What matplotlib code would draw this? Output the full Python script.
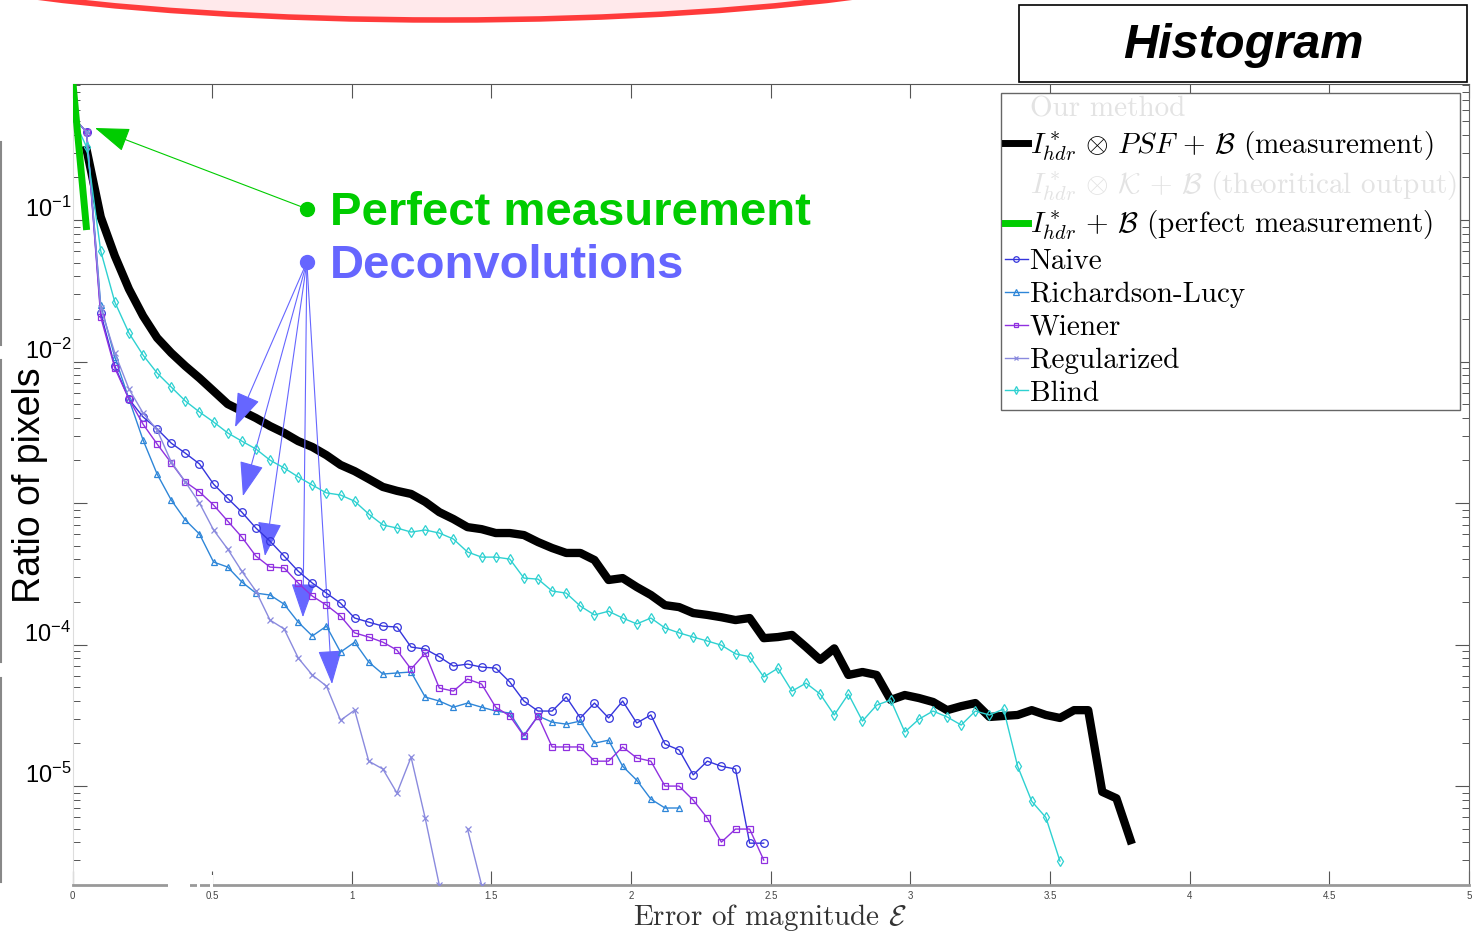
import numpy as np
import matplotlib.pyplot as plt
from matplotlib.lines import Line2D
from matplotlib.patches import Ellipse, Rectangle
from matplotlib.transforms import ScaledTranslation
from matplotlib.ticker import NullFormatter

plt.rcParams['font.family'] = ['Liberation Sans', 'DejaVu Sans']
plt.rcParams['mathtext.fontset'] = 'cm'

# histogram bins (100 bins between 0 and 5)
bins = np.linspace(0, 5, 100)

# measurement starts at bin 1, the others at bin 0
measurement = [0.313, 0.105, 0.0557, 0.0325, 0.0210, 0.0147, 0.0115, 0.00929, 0.00764, 0.00619,
               0.00501, 0.00447, 0.00399, 0.00350, 0.00313, 0.00274, 0.00249, 0.00218, 0.00186, 0.00168,
               0.00148, 0.00130, 0.00122, 0.00116, 0.00102, 0.000863, 0.000771, 0.000676, 0.000654, 0.000614,
               0.000614, 0.000594, 0.000530, 0.000481, 0.000444, 0.000444, 0.000396, 0.000286, 0.000295, 0.000255,
               0.000224, 0.000190, 0.000184, 0.000167, 0.000162, 0.000156, 0.000149, 0.000154, 0.000111, 0.000113,
               0.000117, 9.6e-5, 7.8e-5, 9.4e-5, 6.1e-5, 6.4e-5, 6.1e-5, 4.06e-5, 4.40e-5, 4.19e-5,
               3.93e-5, 3.44e-5, 3.67e-5, 3.86e-5, 3.08e-5, 3.13e-5, 3.18e-5, 3.44e-5, 3.18e-5, 3.03e-5,
               3.44e-5, 3.44e-5, 9.1e-6, 8.2e-6, 4.15e-6]
perfect = [1.0, 0.085]
naive = [0.535, 0.419, 0.0220, 0.00929, 0.00543, 0.00406, 0.00334, 0.00265, 0.00225, 0.00189,
         0.00136, 0.00108, 0.000863, 0.000666, 0.000538, 0.000422, 0.000330, 0.000272, 0.000231, 0.000196,
         0.000154, 0.000144, 0.000135, 0.000133, 9.6e-5, 9.3e-5, 8.2e-5, 7.05e-5, 7.28e-5, 6.93e-5,
         6.82e-5, 5.43e-5, 3.99e-5, 3.39e-5, 3.39e-5, 4.26e-5, 3.03e-5, 3.86e-5, 3.03e-5, 3.99e-5,
         2.79e-5, 3.18e-5, 1.98e-5, 1.80e-5, 1.20e-5, 1.50e-5, 1.38e-5, 1.32e-5, 3.95e-6, 3.95e-6]
richardson_lucy = [0.535, 0.419, 0.0251, 0.01076, 0.00543, 0.00279, 0.00160, 0.00105, 0.000759, 0.000604,
                   0.000383, 0.000353, 0.000277, 0.000231, 0.000224, 0.000193, 0.000144, 0.000115, 0.000135, 8.85e-5,
                   0.000104, 7.52e-5, 6.19e-5, 6.30e-5, 6.40e-5, 4.26e-5, 3.99e-5, 3.61e-5, 3.86e-5, 3.61e-5,
                   3.39e-5, 3.28e-5, 2.29e-5, 3.13e-5, 2.83e-5, 2.74e-5, 2.88e-5, 2.01e-5, 2.11e-5, 1.38e-5,
                   1.10e-5, 8.09e-6, 7.0e-6, 7.0e-6]
wiener = [0.535, 0.419, 0.0206, 0.00899, 0.00543, 0.00361, 0.00261, 0.00192, 0.00141, 0.00120,
          0.000968, 0.000746, 0.000575, 0.000422, 0.000353, 0.000348, 0.000272, 0.000220, 0.000190, 0.000159,
          0.000121, 0.000113, 0.000104, 9.14e-5, 6.71e-5, 8.7e-5, 4.93e-5, 4.69e-5, 5.70e-5, 5.26e-5,
          3.61e-5, 3.13e-5, 2.26e-5, 3.13e-5, 1.89e-5, 1.89e-5, 1.89e-5, 1.50e-5, 1.50e-5, 1.89e-5,
          1.58e-5, 1.50e-5, 1.00e-5, 1.00e-5, 7.96e-6, 5.94e-6, 4.02e-6, 4.97e-6, 4.97e-6, 3.0e-6]
regularized = [0.535, 0.419, 0.0239, 0.0115, 0.00640, 0.00433, 0.00328, 0.00195, 0.00141, 0.00100,
               0.000645, 0.000473, 0.000330, 0.000239, 0.000149, 0.000129, 8.04e-5, 6.09e-5, 5.09e-5, 2.92e-5,
               3.44e-5, 1.50e-5, 1.32e-5, 8.93e-6, 1.60e-5, 5.94e-6, 2.0e-6, np.nan, 4.97e-6, 2.0e-6]
blind = [0.535, 0.328, 0.0604, 0.0263, 0.0159, 0.0111, 0.00829, 0.00660, 0.00526, 0.00440,
         0.00374, 0.00313, 0.00274, 0.00241, 0.00201, 0.00177, 0.00153, 0.00134, 0.00118, 0.00114,
         0.00103, 0.000836, 0.000700, 0.000666, 0.000624, 0.000645, 0.000614, 0.000557, 0.000451, 0.000415,
         0.000415, 0.000402, 0.000295, 0.000290, 0.000239, 0.000231, 0.000187, 0.000162, 0.000172, 0.000154,
         0.000140, 0.000154, 0.000131, 0.000121, 0.000113, 0.000106, 9.9e-5, 8.6e-5, 8.2e-5, 5.9e-5,
         6.8e-5, 4.69e-5, 5.34e-5, 4.47e-5, 3.18e-5, 4.47e-5, 2.88e-5, 3.73e-5, 4.06e-5, 2.41e-5,
         2.97e-5, 3.39e-5, 3.08e-5, 2.70e-5, 3.39e-5, 3.18e-5, 3.50e-5, 1.38e-5, 7.8e-6, 6.0e-6,
         2.95e-6]

# annotation anchors (data coords)
perfect_dot = (0.839, 0.120)
perfect_tip = (0.0805, 0.447)
deconv_dot = (0.839, 0.0505)
deconv_tips_x = [0.582, 0.610, 0.689, 0.825, 0.929]
deconv_tips_y = [3.44e-3, 1.12e-3, 4.22e-4, 1.56e-4, 5.26e-5]

green = '#00cc00'
blue_txt = '#6666ff'
c_naive = '#3535dc'
c_rl = '#2e86d8'
c_wiener = '#9030e0'
c_reg = '#8a8ade'
c_blind = '#2ed1d1'

fig = plt.figure(figsize=(14.83, 9.38), dpi=100)
ax = fig.add_axes([0.0489, 0.0565, 0.9417, 0.8539])

ax.plot(bins[1:1 + len(measurement)], measurement, color='k', lw=6, zorder=3)
mk = dict(mfc='none', lw=1, mew=0.9)
ax.plot(bins[:len(naive)], naive, color=c_naive, marker='o', ms=5.5, zorder=4, **mk)
ax.plot(bins[:len(richardson_lucy)], richardson_lucy, color=c_rl, marker='^', ms=5, zorder=4, **mk)
ax.plot(bins[:len(wiener)], wiener, color=c_wiener, marker='s', ms=4.5, zorder=4, **mk)
ax.plot(bins[:len(regularized)], regularized, color=c_reg, marker='x', ms=4.5, zorder=4, **mk)
ax.plot(bins[:len(blind)], blind, color=c_blind, marker='d', ms=5.5, zorder=5, **mk)
ax.plot(bins[:len(perfect)], perfect, color=green, lw=5, solid_capstyle='butt', zorder=6)

ax.set_yscale('log')
ax.set_xlim(0, 5)
ax.set_ylim(2.0e-6, 0.914)

ax.set_xticks(np.arange(0, 5.01, 0.5), ['0', '0.5', '1', '1.5', '2', '2.5', '3', '3.5', '4', '4.5', '5'])
ax.set_yticks([1e-1, 1e-2, 1e-3, 1e-4, 1e-5],
              [r'$\mathregular{10^{-1}}$', r'$\mathregular{10^{-2}}$', '',
               r'$\mathregular{10^{-4}}$', r'$\mathregular{10^{-5}}$'])
ax.yaxis.set_minor_formatter(NullFormatter())

ax.tick_params(which='both', direction='in', top=True, right=True, color='#555555')
ax.tick_params(which='major', length=10, width=0.8)
ax.tick_params(which='minor', length=5, width=0.7)
ax.tick_params(axis='y', which='major', labelsize=17, pad=1)
ax.tick_params(axis='x', labelsize=7, labelcolor='#444444', pad=4)

offset = ScaledTranslation(0, 0.13, fig.dpi_scale_trans)
for lab in ax.get_yticklabels():
    lab.set_transform(lab.get_transform() + offset)

ax.spines['top'].set_color('#555555')
ax.spines['right'].set_color('#666666')
ax.spines['left'].set_color('#dddddd')
ax.spines['bottom'].set_color('#999999')
ax.spines['bottom'].set_linewidth(2)

# arrows and texts
arrow = '-|>,head_length=1.0,head_width=0.35'
ax.annotate('', xy=perfect_tip, xytext=perfect_dot,
            arrowprops=dict(arrowstyle=arrow, color=green, lw=0.8, shrinkA=0, shrinkB=0, mutation_scale=22))
for tx, ty in zip(deconv_tips_x, deconv_tips_y):
    ax.annotate('', xy=(tx, ty), xytext=deconv_dot,
                arrowprops=dict(arrowstyle=arrow, color=blue_txt, lw=0.8, shrinkA=0, shrinkB=0, mutation_scale=22))
ax.plot(*perfect_dot, 'o', color=green, ms=10, zorder=7)
ax.plot(*deconv_dot, 'o', color=blue_txt, ms=10, zorder=7)
ax.text(0.922, 0.112, 'Perfect measurement', color=green, fontsize=34, fontweight='bold', va='center')
ax.text(0.922, 0.0473, 'Deconvolutions', color=blue_txt, fontsize=34, fontweight='bold', va='center')

# legend
handles = [Line2D([], [], color='none'),
           Line2D([], [], color='k', lw=5),
           Line2D([], [], color='none'),
           Line2D([], [], color=green, lw=5),
           Line2D([], [], color=c_naive, marker='o', ms=4, **mk),
           Line2D([], [], color=c_rl, marker='^', ms=4, **mk),
           Line2D([], [], color=c_wiener, marker='s', ms=3.5, **mk),
           Line2D([], [], color=c_reg, marker='x', ms=3.5, **mk),
           Line2D([], [], color=c_blind, marker='d', ms=4, **mk)]
labels = ['Our method',
          r'$I^*_{hdr}\,\otimes\,PSF\,+\,\mathcal{B}$ (measurement)',
          r'$I^*_{hdr}\,\otimes\,\mathcal{K}\,+\,\mathcal{B}$ (theoritical output)',
          r'$I^*_{hdr}\,+\,\mathcal{B}$ (perfect measurement)',
          'Naive', 'Richardson-Lucy', 'Wiener', 'Regularized', 'Blind']
leg = ax.legend(handles, labels, loc='upper right', bbox_to_anchor=(1460 / 1483, 1 - 93 / 938),
                bbox_transform=fig.transFigure, prop={'family': 'cmr10', 'size': 21},
                fancybox=False, edgecolor='#666666', framealpha=1, borderaxespad=0,
                borderpad=0.12, handlelength=0.8, handletextpad=0.05, labelspacing=0.22)
leg.get_frame().set_linewidth(1)
leg.get_texts()[0].set_color('#e3e3e3')
leg.get_texts()[2].set_color('#e3e3e3')

# axis labels
fig.text(30 / 1483, 1 - 485 / 938, 'Ratio of pixels', rotation=90, fontsize=27, ha='center', va='center')
fig.text(770 / 1483, 1 - 917 / 938, r'Error of magnitude $\mathcal{E}$', family='cmr10', fontsize=21,
         color='#333333', ha='center', va='center')

# title box
fig.patches.append(Rectangle((1019 / 1483, 1 - 82 / 938), 448 / 1483, 77 / 938, transform=fig.transFigure,
                             facecolor='white', edgecolor='black', lw=1.2))
fig.text(1243 / 1483, 1 - 45 / 938, 'Histogram', fontsize=35, fontweight='bold', fontstyle='italic',
         ha='center', va='center')

# slide decorations: red ellipse on top, grey rules on the left
fig.patches.append(Ellipse((445 / 1483, 1 + 80 / 938), 1284 / 1483, 200 / 938, transform=fig.transFigure,
                           facecolor='#ffe9eb', edgecolor='#ff3b3b', lw=4))
for y0, y1 in [(142, 345), (360, 662), (678, 882)]:
    fig.lines.append(Line2D([1 / 1483, 1 / 1483], [1 - y0 / 938, 1 - y1 / 938], transform=fig.transFigure,
                            color='#888888', lw=1.5))
for x0, x1 in [(168, 190), (197, 200), (210, 213)]:
    fig.patches.append(Rectangle((x0 / 1483, 1 - 887 / 938), (x1 - x0) / 1483, 12 / 938,
                                 transform=fig.transFigure, facecolor='white', edgecolor='none', zorder=10))

fig.savefig('out.png', dpi=100)
